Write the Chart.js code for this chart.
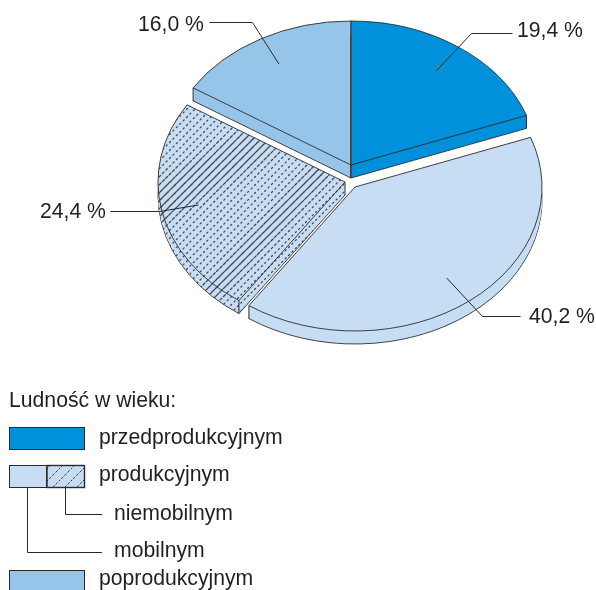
<!DOCTYPE html>
<html lang="pl">
<head>
<meta charset="utf-8">
<style>html,body{margin:0;padding:0;background:#fff}canvas{display:block}</style>
<script src="https://cdn.jsdelivr.net/npm/chart.js@4/dist/chart.umd.min.js"></script>
</head>
<body>
<canvas id="c" width="596" height="590"></canvas>
<script>
// ---- data ----
const categories = ['przedprodukcyjnym', 'mobilnym', 'niemobilnym', 'poprodukcyjnym'];
const values = [19.4, 40.2, 24.4, 16.0];
const valueLabels = ['19,4 %', '40,2 %', '24,4 %', '16,0 %'];
const legendTitle = 'Ludność w wieku:';
const legendGroup = 'produkcyjnym';

// ---- style / layout ----
const INK = '#2b2a2a', TEXT = '#231f20';
const COL_PRE = '#0091da', COL_MOB = '#c6ddf3', COL_POST = '#96c5ea';
const FONT = '21.2px "Liberation Sans", Arial, sans-serif';
const SQUASH = 0.77, DEPTH = 13, RADIUS = 187;
// pie apex of every slice on the page
const apex = [[351,165],[355,187],[345,182],[351,165]];
const drawOrder = [3,0,2,1];
const sideEdges = [['apex','end'],['end'],['apex','start'],['apex','start']];
// leader: elbow, end, text x, baseline
const leaders = [
  {elbow:[471,33], end:[512,33], tx:517, ty:37},
  {elbow:[482,316], end:[520,316], tx:529, ty:323},
  {elbow:[159,211], end:[110,211], tx:40, ty:218},
  {elbow:[252,22], end:[209,22], tx:138, ty:31}
];

function hatchCanvas() {
  const c = document.createElement('canvas');
  c.width = 596; c.height = 590;
  const g = c.getContext('2d');
  g.fillStyle = COL_MOB; g.fillRect(0,0,596,590);
  const bandStrength = (x, y) => Math.max(0,
    1.3 - Math.abs((y - 175) + 0.62 * (x - 205)) / 26,
    1.1 - Math.abs((y - 255) + 1.1 * (x - 245)) / 24);
  g.strokeStyle = '#454b51'; g.lineWidth = 1.3; g.lineCap = 'round';
  const stepAcross = 8;      // horizontal spacing of the 45 degree rows
  const stepAlong = 3.4;
  for (let k = 0; k < 1200; k += stepAcross) {
    for (let x = 0; x < 596; x += stepAlong) {
      const y = k - x;
      if (y < 0 || y > 590) continue;
      const half = 0.45 + 1.2 * Math.min(1, bandStrength(x, y));
      g.beginPath(); g.moveTo(x - half, y + half); g.lineTo(x + half, y - half); g.stroke();
    }
  }
  return c;
}
const ctxTmp = document.createElement('canvas').getContext('2d');
const hatchFill = ctxTmp.createPattern(hatchCanvas(), 'no-repeat');

function swatchFill() {
  const c = document.createElement('canvas');
  c.width = 12; c.height = 12;
  const g = c.getContext('2d');
  g.fillStyle = COL_MOB; g.fillRect(0,0,12,12);
  g.strokeStyle = '#3a3f45'; g.lineWidth = 1;
  g.setLineDash([3,1.5]);
  g.beginPath(); g.moveTo(-2,14); g.lineTo(14,-2); g.moveTo(-2,2); g.lineTo(2,-2); g.moveTo(10,14); g.lineTo(14,10); g.stroke();
  return c;
}

function withOptions(arc, patch, fn) {
  const saved = arc.options;
  arc.options = Object.assign(Object.create(saved), patch);
  fn();
  arc.options = saved;
}

const pie3d = {
  id: 'pie3d',
  beforeDatasetsDraw(chart) {
    const ctx = chart.ctx, meta = chart.getDatasetMeta(0);
    drawOrder.forEach(i => {
      const arc = meta.data[i], [ax, ay] = apex[i];
      const place = dy => {
        ctx.translate(ax, ay + dy);
        ctx.scale(1, SQUASH);
        ctx.translate(-arc.x, -arc.y);
        if (arc.options.backgroundColor === hatchFill) hatchFill.setTransform(ctx.getTransform().inverse());
      };
      // underside with its outline
      ctx.save(); place(DEPTH); arc.draw(ctx); ctx.restore();
      // wall
      withOptions(arc, {borderWidth: 0}, () => {
        for (let d = DEPTH - 1; d > 0; d -= 1) { ctx.save(); place(d); arc.draw(ctx); ctx.restore(); }
      });
      // vertical edges of the wall
      ctx.save();
      ctx.strokeStyle = INK; ctx.lineWidth = 1;
      sideEdges[i].forEach(e => {
        const a = e === 'start' ? arc.startAngle : arc.endAngle;
        const x = e === 'apex' ? ax : ax + arc.outerRadius * Math.cos(a);
        const y = e === 'apex' ? ay : ay + SQUASH * arc.outerRadius * Math.sin(a);
        ctx.beginPath(); ctx.moveTo(x, y); ctx.lineTo(x, y + DEPTH); ctx.stroke();
      });
      ctx.restore();
      // top face
      ctx.save(); place(0); arc.draw(ctx); ctx.restore();
    });
    return false;
  },
  afterDraw(chart) {
    const ctx = chart.ctx, meta = chart.getDatasetMeta(0);
    ctx.save();
    ctx.font = FONT; ctx.textBaseline = 'alphabetic'; ctx.textAlign = 'left';
    // leaders + value labels
    leaders.forEach((l, i) => {
      const arc = meta.data[i], [ax, ay] = apex[i];
      const mid = (arc.startAngle + arc.endAngle) / 2, r = 0.8 * arc.outerRadius;
      ctx.strokeStyle = INK; ctx.lineWidth = 1;
      ctx.beginPath();
      ctx.moveTo(ax + r * Math.cos(mid), ay + SQUASH * r * Math.sin(mid));
      ctx.lineTo(l.elbow[0] + .5, l.elbow[1] + .5);
      ctx.lineTo(l.end[0] + .5, l.end[1] + .5);
      ctx.stroke();
      ctx.fillStyle = TEXT;
      ctx.fillText(valueLabels[i], l.tx, l.ty);
    });
    // legend
    ctx.fillStyle = TEXT;
    ctx.fillText(legendTitle, 9, 407);
    ctx.fillText(categories[0], 99, 444);
    ctx.fillText(legendGroup, 99, 481);
    ctx.fillText(categories[2], 114, 520);
    ctx.fillText(categories[1], 114, 557);
    ctx.fillText(categories[3], 99, 585);
    const box = (x, y, w, h, fill, lw) => {
      ctx.fillStyle = fill; ctx.fillRect(x, y, w, h);
      ctx.strokeStyle = INK; ctx.lineWidth = lw || 1; ctx.strokeRect(x, y, w, h);
    };
    box(9.5, 427.5, 75, 22, COL_PRE);
    box(9.5, 465.5, 37, 22, COL_MOB);
    box(47, 465.5, 37.5, 22, ctx.createPattern(swatchFill(), 'repeat'), 1.4);
    box(9.5, 570.5, 75, 22, COL_POST);
    ctx.strokeStyle = INK; ctx.lineWidth = 1;
    ctx.beginPath();
    ctx.moveTo(65.5, 487); ctx.lineTo(65.5, 514.5); ctx.lineTo(102, 514.5);
    ctx.moveTo(27.5, 487); ctx.lineTo(27.5, 552.5); ctx.lineTo(102, 552.5);
    ctx.stroke();
    ctx.restore();
  }
};

new Chart(document.getElementById('c'), {
  type: 'pie',
  data: {
    labels: categories,
    datasets: [{
      data: values,
      backgroundColor: [COL_PRE, COL_MOB, hatchFill, COL_POST],
      borderColor: INK,
      borderWidth: 1,
      borderJoinStyle: 'bevel',
      radius: RADIUS
    }]
  },
  options: {
    responsive: false,
    animation: false,
    events: [],
    plugins: { legend: {display: false}, tooltip: {enabled: false} }
  },
  plugins: [pie3d]
});
</script>
</body>
</html>
